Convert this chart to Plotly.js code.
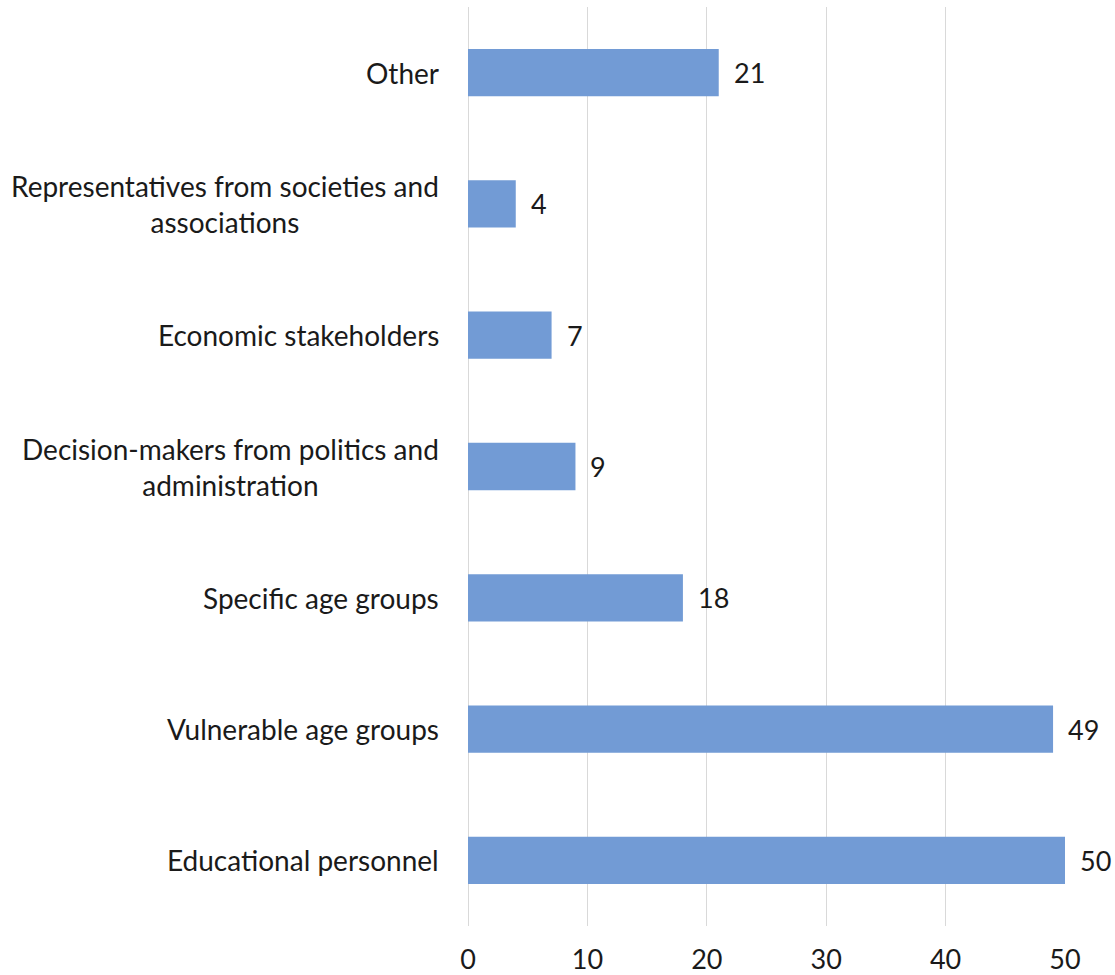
<!DOCTYPE html>
<html>
<head>
<meta charset="utf-8">
<script src="https://cdn.plot.ly/plotly-3.0.1.min.js"></script>
<style>html,body{margin:0;padding:0;background:#fff;}#chart{width:1115px;height:975px;}</style>
</head>
<body>
<div id="chart"></div>
<script>
var categories = [
  "Educational personnel",
  "Vulnerable age groups",
  "Specific age groups",
  "Decision-makers from politics and<br>administration",
  "Economic stakeholders",
  "Representatives from societies and<br>associations",
  "Other"
];
var values = [50, 49, 18, 9, 7, 4, 21];
var xTicks = [0, 10, 20, 30, 40, 50];

var FONT = "Lato, 'Open Sans', sans-serif";
var TEXTC = "#1a1a1a";
var FS = 27;

var annotations = [];
categories.forEach(function (c, i) {
  annotations.push({
    x: 0, xref: "paper", y: i, yref: "y",
    text: c, showarrow: false, xanchor: "right", align: "center",
    xshift: -27, font: {family: FONT, size: 28, color: TEXTC}
  });
  annotations.push({
    x: values[i], xref: "x", y: i, yref: "y",
    text: String(values[i]), showarrow: false, xanchor: "left",
    xshift: 13, font: {family: FONT, size: FS, color: TEXTC}
  });
});

var trace = {
  type: "bar",
  orientation: "h",
  y: categories.map(function (c, i) { return i; }),
  x: values,
  marker: {color: "#729BD5"},
  hoverinfo: "x"
};

var layout = {
  width: 1115, height: 975,
  margin: {l: 468, r: 50, t: 7, b: 49},
  paper_bgcolor: "#fff", plot_bgcolor: "#fff",
  showlegend: false,
  bargap: 0.64,
  xaxis: {
    range: [0, 50], tickvals: xTicks, ticktext: xTicks.map(String),
    showgrid: true, gridcolor: "#D9D9D9", gridwidth: 1,
    zeroline: true, zerolinecolor: "#D9D9D9", zerolinewidth: 1,
    showline: false, ticks: "",
    ticklabelstandoff: 15,
    tickfont: {family: FONT, size: FS, color: TEXTC}
  },
  yaxis: {
    range: [-0.5, 6.5], showticklabels: false, showgrid: false,
    zeroline: false, showline: false, ticks: ""
  },
  annotations: annotations
};

Plotly.newPlot("chart", [trace], layout, {displayModeBar: false, staticPlot: true});
</script>
</body>
</html>
